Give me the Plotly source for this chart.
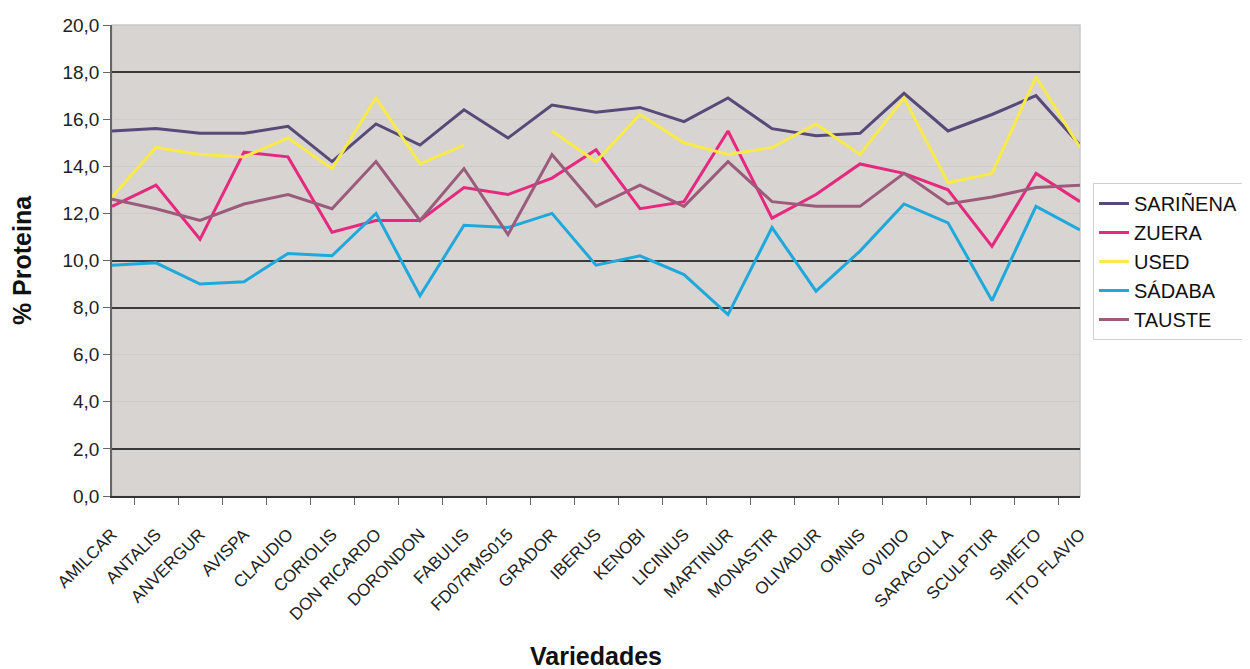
import plotly.graph_objects as go

variedades = ["AMILCAR", "ANTALIS", "ANVERGUR", "AVISPA", "CLAUDIO", "CORIOLIS",
              "DON RICARDO", "DORONDON", "FABULIS", "FD07RMS015", "GRADOR", "IBERUS",
              "KENOBI", "LICINIUS", "MARTINUR", "MONASTIR", "OLIVADUR", "OMNIS",
              "OVIDIO", "SARAGOLLA", "SCULPTUR", "SIMETO", "TITO FLAVIO"]

sarinena = [15.5, 15.6, 15.4, 15.4, 15.7, 14.2, 15.8, 14.9, 16.4, 15.2, 16.6, 16.3,
            16.5, 15.9, 16.9, 15.6, 15.3, 15.4, 17.1, 15.5, 16.2, 17.0, 14.9]
zuera = [12.3, 13.2, 10.9, 14.6, 14.4, 11.2, 11.7, 11.7, 13.1, 12.8, 13.5, 14.7,
         12.2, 12.5, 15.5, 11.8, 12.8, 14.1, 13.7, 13.0, 10.6, 13.7, 12.5]
used = [12.7, 14.8, 14.5, 14.4, 15.2, 13.9, 16.9, 14.1, 14.9, None, 15.5, 14.2,
        16.2, 15.0, 14.5, 14.8, 15.8, 14.5, 16.9, 13.3, 13.7, 17.8, 14.8]
sadaba = [9.8, 9.9, 9.0, 9.1, 10.3, 10.2, 12.0, 8.5, 11.5, 11.4, 12.0, 9.8,
          10.2, 9.4, 7.7, 11.4, 8.7, 10.4, 12.4, 11.6, 8.3, 12.3, 11.3]
tauste = [12.6, 12.2, 11.7, 12.4, 12.8, 12.2, 14.2, 11.7, 13.9, 11.1, 14.5, 12.3,
          13.2, 12.3, 14.2, 12.5, 12.3, 12.3, 13.7, 12.4, 12.7, 13.1, 13.2]

series = [("SARIÑENA", sarinena, "#574a78"),
          ("ZUERA", zuera, "#e6287e"),
          ("USED", used, "#f7ea4a"),
          ("SÁDABA", sadaba, "#1ea9dc"),
          ("TAUSTE", tauste, "#9b5b7a")]

y_ticks = [0, 2, 4, 6, 8, 10, 12, 14, 16, 18, 20]
dark_grid = [2, 8, 10, 18]

font_family = "Liberation Sans, Arial, sans-serif"

fig = go.Figure()
for name, vals, color in series:
    fig.add_trace(go.Scatter(x=variedades, y=vals, name=name, mode="lines",
                             line=dict(color=color, width=3), connectgaps=False))

# invisible trace on overlay axis to draw the darker gridlines
fig.add_trace(go.Scatter(x=variedades, y=[None] * len(variedades), yaxis="y2",
                         showlegend=False, hoverinfo="skip"))

fig.update_layout(
    width=1250, height=669,
    paper_bgcolor="white",
    plot_bgcolor="#d8d4d1",
    separators=", ",
    margin=dict(l=104, r=178, t=17, b=181, autoexpand=False),
    font=dict(family=font_family, size=16, color="#222222"),
    showlegend=True,
    legend=dict(x=1.0134, y=0.6645, xanchor="left", yanchor="top",
                bgcolor="white", bordercolor="#d0d0d0", borderwidth=1,
                font=dict(size=20, color="#111111"), tracegroupgap=0,
                itemwidth=30),
    xaxis=dict(
        type="category", tickangle=-45, tickson="boundaries",
        ticks="outside", ticklen=7, tickcolor="#666666",
        ticklabelstandoff=20,
        showgrid=False, showline=True, linecolor="#333333", linewidth=1.5,
        mirror=False, tickfont=dict(size=17, color="#222222"),
        title=dict(text="<b>Variedades</b>", standoff=25,
                   font=dict(family=font_family, size=25, color="#111111")),
    ),
    yaxis=dict(
        range=[0, 20], tickvals=y_ticks, tickformat=".1f",
        ticks="outside", ticklen=7, tickcolor="#666666",
        showgrid=True, gridcolor="#cfcbc8", gridwidth=1,
        showline=True, linecolor="#666666", linewidth=1.5,
        zeroline=False, tickfont=dict(size=19, color="#222222"),
        title=dict(text="<b>% Proteina</b>", standoff=24,
                   font=dict(family=font_family, size=25, color="#111111")),
    ),
    yaxis2=dict(
        range=[0, 20], overlaying="y", tickvals=dark_grid, showticklabels=False,
        showgrid=True, gridcolor="#3a3a3a", gridwidth=1.5, zeroline=False,
        showline=False, ticks="",
    ),
    shapes=[dict(type="rect", xref="paper", yref="paper", x0=0, x1=1, y0=0, y1=1,
                 line=dict(color="#c8c8c8", width=1.5), layer="below")],
)

fig.write_html("out.html")
